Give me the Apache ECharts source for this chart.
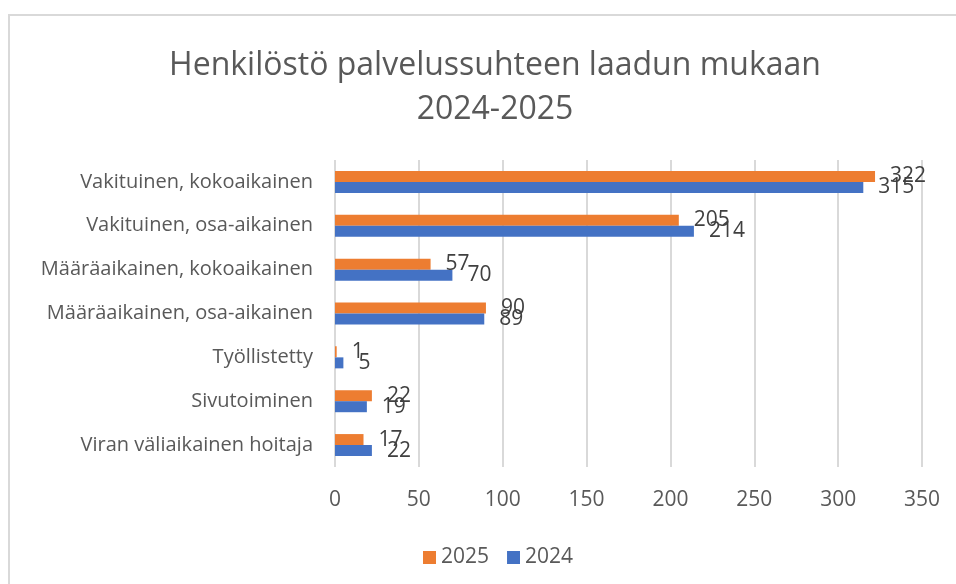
<!DOCTYPE html>
<html>
<head>
<meta charset="UTF-8">
<title>Henkilöstö palvelussuhteen laadun mukaan 2024-2025</title>
<script src="https://cdn.jsdelivr.net/npm/echarts@6/dist/echarts.min.js"></script>
<style>
    body { margin: 0; background: #fff; }
    #chart { width: 956px; height: 584px; }
</style>
</head>
<body>
<div id="chart"></div>
<script>
// kategoriat ylhäältä alas
var categories = [
    'Vakituinen, kokoaikainen',
    'Vakituinen, osa-aikainen',
    'Määräaikainen, kokoaikainen',
    'Määräaikainen, osa-aikainen',
    'Työllistetty',
    'Sivutoiminen',
    'Viran väliaikainen hoitaja'
];
var values2025 = [322, 205, 57, 90, 1, 22, 17];
var values2024 = [315, 214, 70, 89, 5, 19, 22];
var seriesNames = ['2025', '2024'];
var xTicks = [0, 350, 50]; // min, max, interval

var font = '"Open Sans", "Noto Sans", sans-serif';
var chart = echarts.init(document.getElementById('chart'));

var option = {
    animation: false,
    textStyle: { fontFamily: font },
    graphic: [{
        type: 'rect',
        shape: { x: 9, y: 15, width: 980, height: 620 },
        style: { fill: 'none', stroke: '#d9d9d9', lineWidth: 2 },
        silent: true
    }],
    title: {
        text: 'Henkilöstö palvelussuhteen laadun mukaan\n2024-2025',
        left: 490,
        textAlign: 'center',
        top: 39,
        textStyle: { fontSize: 32, fontWeight: 'normal', color: '#595959', lineHeight: 44, fontFamily: font }
    },
    legend: {
        data: seriesNames,
        left: 418,
        top: 542,
        itemWidth: 13,
        itemHeight: 13,
        itemGap: 18,
        icon: 'rect',
        textStyle: { fontSize: 21, color: '#595959', fontFamily: font }
    },
    grid: { left: 335, right: 34, top: 160, bottom: 117, containLabel: false },
    xAxis: {
        type: 'value',
        min: xTicks[0],
        max: xTicks[1],
        interval: xTicks[2],
        axisLine: { show: false },
        axisTick: { show: false },
        axisLabel: { fontSize: 21, color: '#595959', margin: 23, fontFamily: font },
        splitLine: { lineStyle: { color: '#d9d9d9', width: 2 } }
    },
    yAxis: {
        type: 'category',
        data: categories,
        inverse: true,
        axisLine: { show: false },
        axisTick: { show: false },
        axisLabel: { fontSize: 20, color: '#595959', margin: 22, fontFamily: font }
    },
    series: [
        {
            name: seriesNames[0],
            type: 'bar',
            data: values2025,
            barWidth: 11,
            barGap: '0%',
            itemStyle: { color: '#ED7D31' },
            label: { show: true, position: 'right', distance: 15, fontSize: 21, color: '#404040', fontFamily: font }
        },
        {
            name: seriesNames[1],
            type: 'bar',
            data: values2024,
            barWidth: 11,
            barGap: '0%',
            itemStyle: { color: '#4472C4' },
            label: { show: true, position: 'right', distance: 15, fontSize: 21, color: '#404040', fontFamily: font }
        }
    ]
};

chart.setOption(option);
</script>
</body>
</html>
